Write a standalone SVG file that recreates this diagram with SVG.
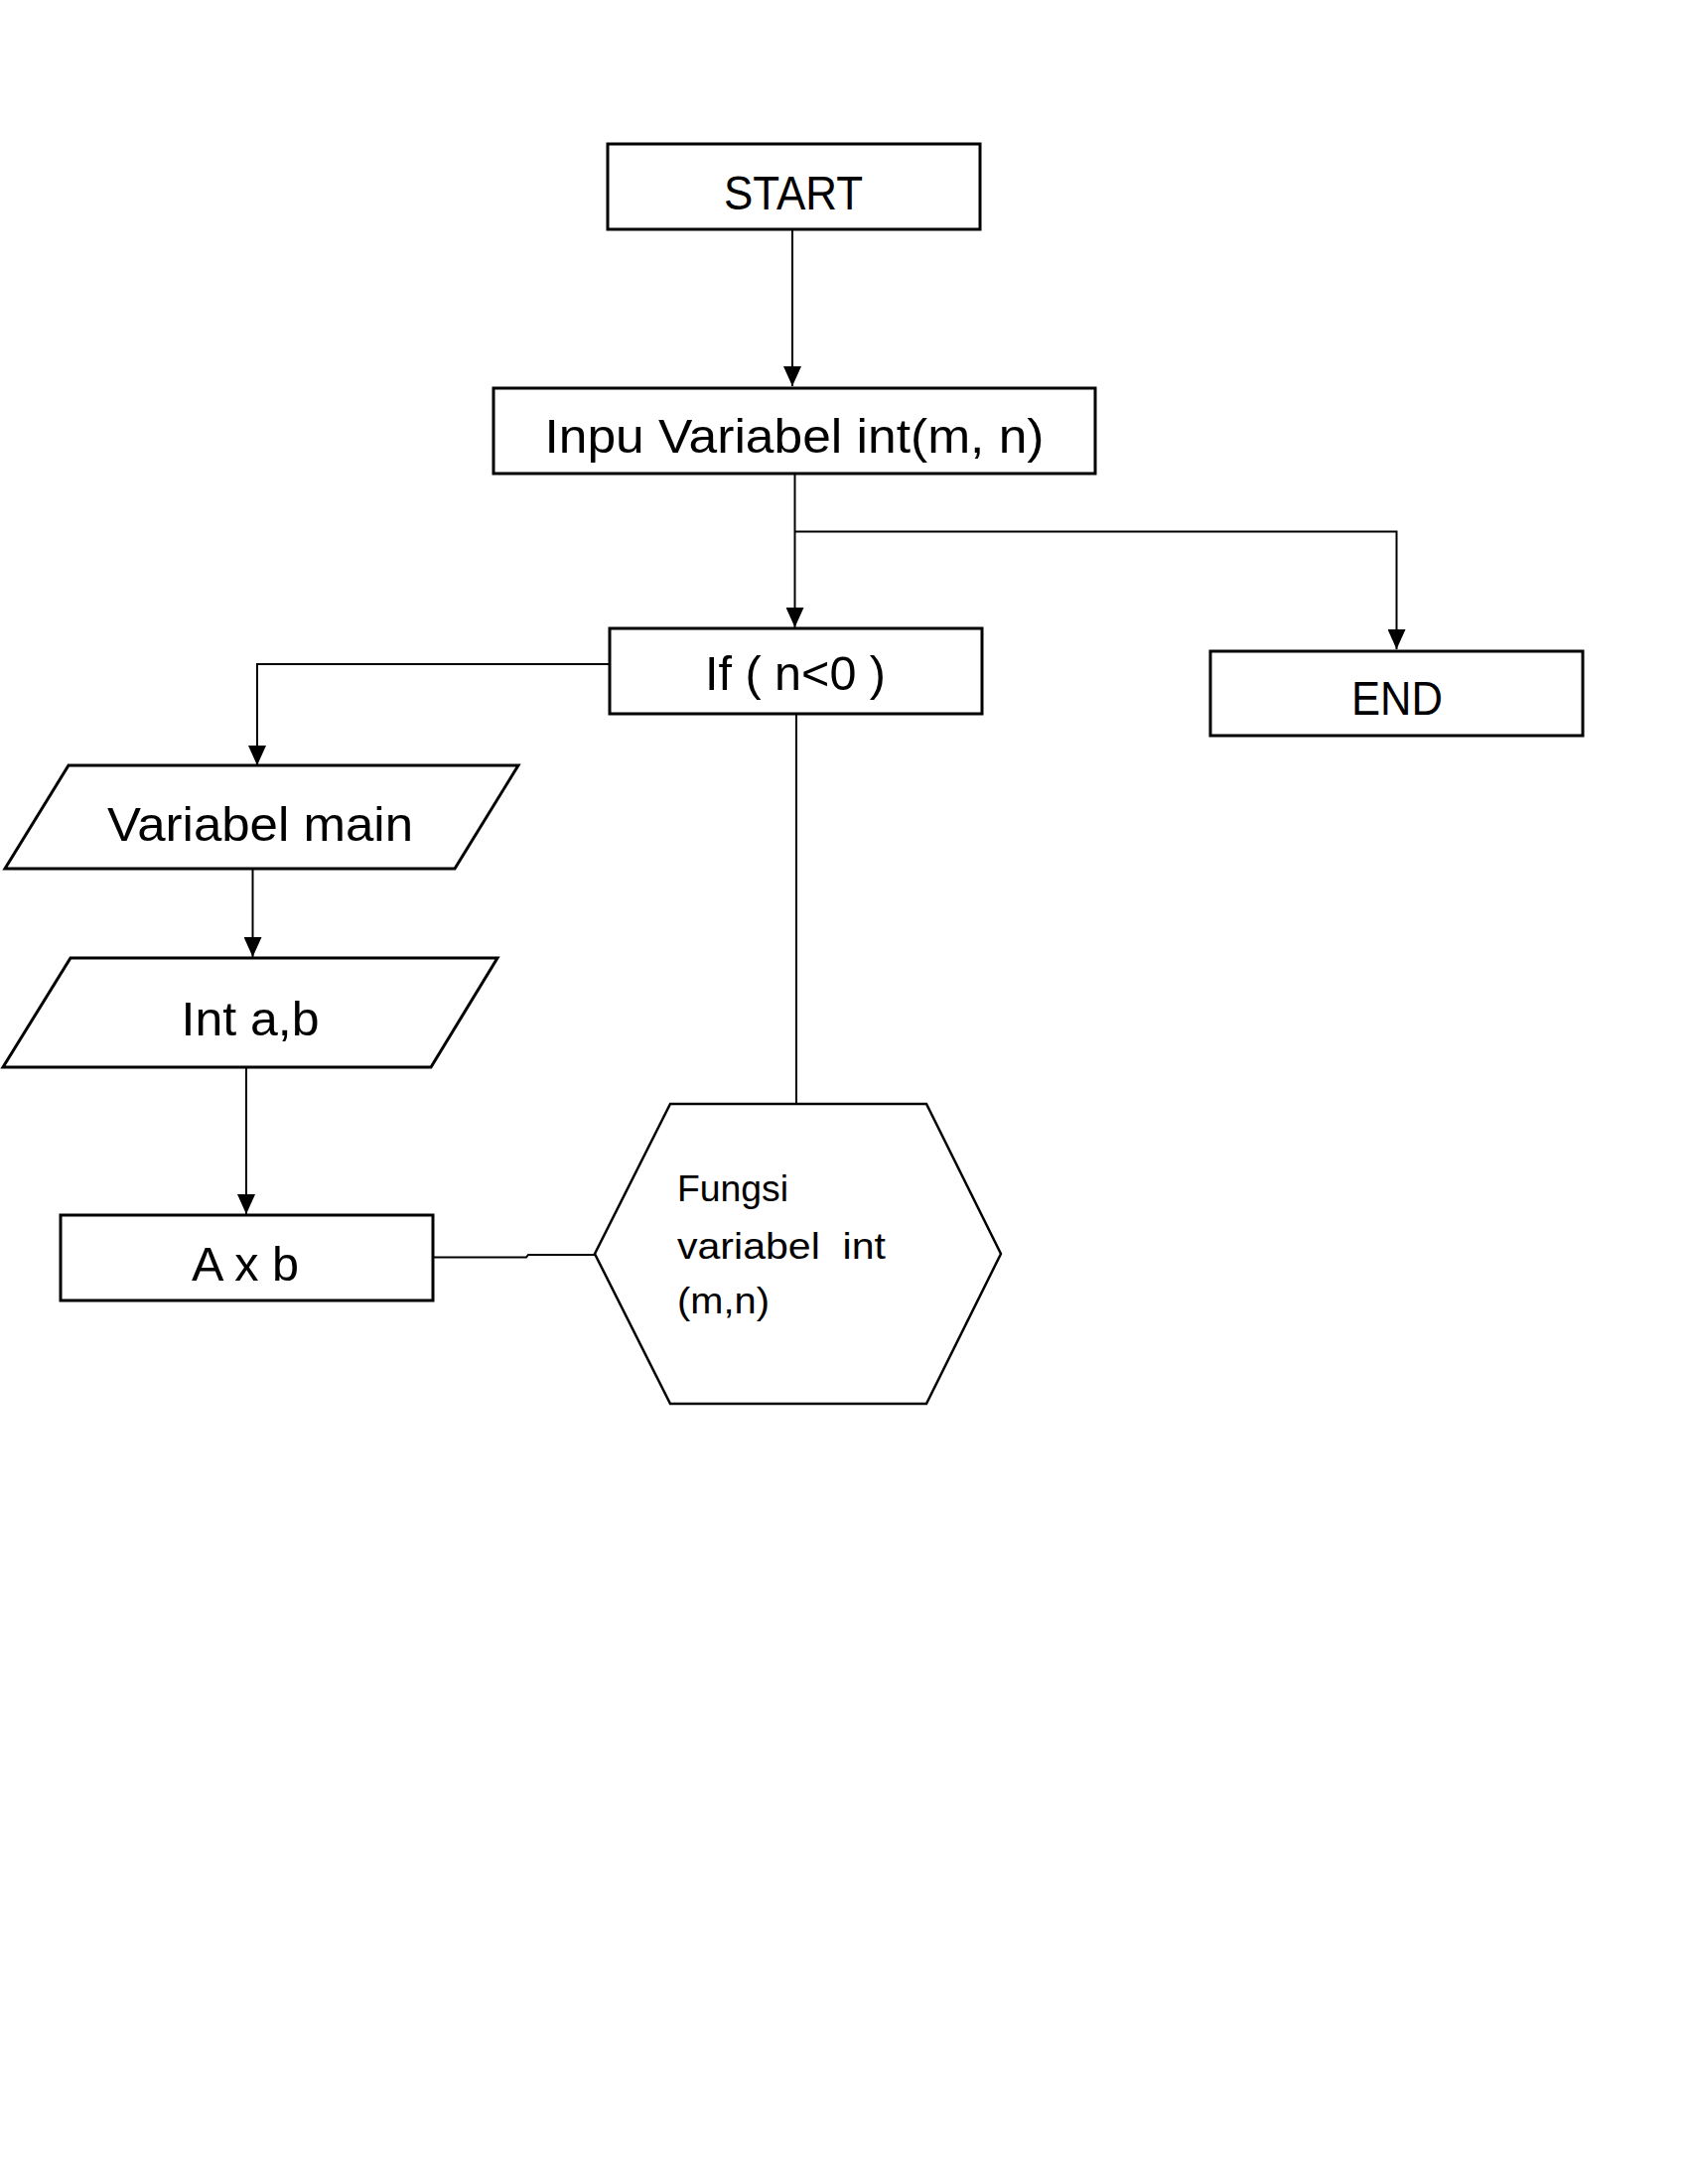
<svg xmlns="http://www.w3.org/2000/svg" width="1700" height="2200" viewBox="0 0 1700 2200">
<style>
.box{fill:#fff;stroke:#000;stroke-width:3}
.hex{fill:#fff;stroke:#000;stroke-width:2.5}
.lbl{font-family:"Liberation Sans",Arial,sans-serif;font-size:49px;fill:#000;text-anchor:middle}
.small{font-family:"Liberation Sans",Arial,sans-serif;font-size:37px;fill:#000;white-space:pre}
.conn{fill:none;stroke:#000;stroke-width:2}
</style>
<defs>
<marker id="arr" markerUnits="userSpaceOnUse" markerWidth="20" markerHeight="18" viewBox="0 0 20 18" refX="20" refY="9" orient="auto">
<path d="M0,0 L20,9 L0,18 z" fill="#000"/>
</marker>
</defs>
<rect width="1700" height="2200" fill="#fff"/>
<g id="connectors">
<path class="conn" d="M798 232 V389" marker-end="url(#arr)"/>
<path class="conn" d="M800.5 478 V632" marker-end="url(#arr)"/>
<path class="conn" d="M800.5 535.5 H1406.5 V654" marker-end="url(#arr)"/>
<path class="conn" d="M614 669 H259 V771" marker-end="url(#arr)"/>
<path class="conn" d="M254.5 875 V964" marker-end="url(#arr)"/>
<path class="conn" d="M248 1075 V1223" marker-end="url(#arr)"/>
<path class="conn" d="M802 719 V1112"/>
<path class="conn" d="M437 1266.5 H530 L532 1264 H599"/>
</g>
<g id="start">
<rect class="box" x="612" y="145" width="375" height="86"/>
<text class="lbl" x="799" y="211" textLength="140" lengthAdjust="spacingAndGlyphs">START</text>
</g>
<g id="input">
<rect class="box" x="497" y="391" width="606" height="86"/>
<text class="lbl" x="800" y="456" textLength="503" lengthAdjust="spacingAndGlyphs">Inpu Variabel int(m, n)</text>
</g>
<g id="if">
<rect class="box" x="614" y="633" width="375" height="86"/>
<text class="lbl" x="801" y="695" textLength="182" lengthAdjust="spacingAndGlyphs">If ( n&lt;0 )</text>
</g>
<g id="end">
<rect class="box" x="1219" y="656" width="375" height="85"/>
<text class="lbl" x="1407" y="720" textLength="92" lengthAdjust="spacingAndGlyphs">END</text>
</g>
<g id="variabel-main">
<polygon class="box" points="69,771 522,771 458,875 5,875"/>
<text class="lbl" x="262" y="847" textLength="308" lengthAdjust="spacingAndGlyphs">Variabel main</text>
</g>
<g id="int-ab">
<polygon class="box" points="71,965 501,965 434,1075 3,1075"/>
<text class="lbl" x="252" y="1043" textLength="139" lengthAdjust="spacingAndGlyphs">Int a,b</text>
</g>
<g id="axb">
<rect class="box" x="61" y="1224" width="375" height="86"/>
<text class="lbl" x="247" y="1290" textLength="108" lengthAdjust="spacingAndGlyphs">A x b</text>
</g>
<g id="fungsi">
<polygon class="hex" points="675,1112 933,1112 1008,1263 933,1414 675,1414 599,1263"/>
<text class="small" x="682" y="1210" textLength="112" lengthAdjust="spacingAndGlyphs">Fungsi</text>
<text class="small" x="682" y="1268" textLength="210" lengthAdjust="spacingAndGlyphs" xml:space="preserve">variabel  int</text>
<text class="small" x="682" y="1323" textLength="93" lengthAdjust="spacingAndGlyphs">(m,n)</text>
</g>
</svg>
